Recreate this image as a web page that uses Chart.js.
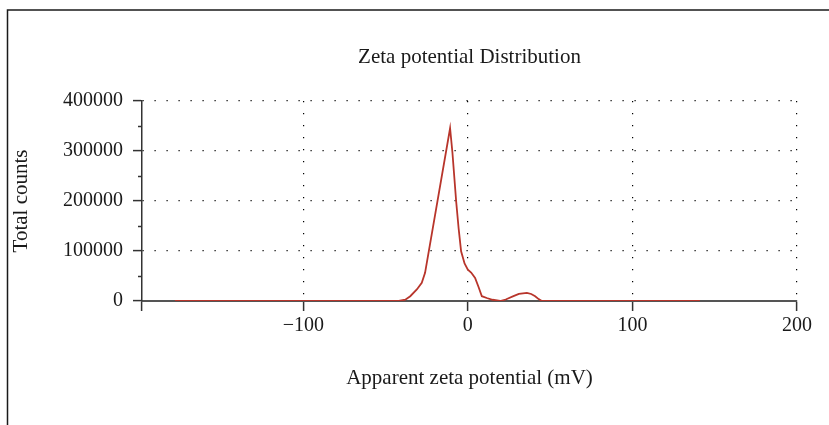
<!DOCTYPE html>
<html>
<head>
<meta charset="utf-8">
<title>Zeta potential Distribution</title>
<script src="https://cdn.jsdelivr.net/npm/chart.js@4.4.1/dist/chart.umd.min.js"></script>
<style>
  html, body { margin: 0; padding: 0; background: #fff; }
  #wrap { width: 829px; height: 425px; position: relative; }
</style>
</head>
<body>
<div id="wrap"><canvas id="zetaChart"></canvas></div>
<script>
// valores (mV, cuentas)
const zetaMv = [-178, -42, -38, -35, -31, -28, -26, -10.8, -9.4, -7.1, -5.6, -4.1, -2, 0, 2, 4.4, 6.5, 8.5, 11.5, 15, 19.6, 23, 27.7, 31, 35.9, 38.5, 40.9, 43, 45, 141];
const totalCounts = [0, 0, 2500, 9600, 23000, 36300, 56300, 345500, 298000, 199000, 145000, 99400, 75000, 62800, 57000, 46300, 28000, 9600, 6000, 2500, 0, 3000, 9600, 14200, 16400, 14000, 9600, 3800, 0, 0];

const xTickValues = [-100, 0, 100, 200];
const yTickValues = [0, 100000, 200000, 300000, 400000];
const yMinorTicks = [50000, 150000, 250000, 350000];
const xMin = -198;
const xMax = 200;

const chartTitle = 'Zeta potential Distribution';
const xTitle = 'Apparent zeta potential (mV)';
const yTitle = 'Total counts';

const SERIF = '"Liberation Serif", "Times New Roman", serif';
const INK = '#1a1a1a';
const DOTS = '#000';

Chart.defaults.font.family = SERIF;
Chart.defaults.color = INK;

// marco, título y marcas menores del eje Y
const decoPlugin = {
    id: 'deco',
    beforeDraw(chart) {
        const ctx = chart.ctx;
        ctx.save();
        ctx.strokeStyle = INK;
        ctx.lineWidth = 1.5;
        ctx.beginPath();
        ctx.moveTo(7.5, chart.height);
        ctx.lineTo(7.5, 10);
        ctx.lineTo(chart.width, 10);
        ctx.stroke();
        ctx.restore();
    },
    afterDraw(chart) {
        const ctx = chart.ctx;
        const area = chart.chartArea;
        const y = chart.scales.y;
        ctx.save();
        ctx.fillStyle = INK;
        ctx.font = '21px ' + SERIF;
        ctx.textAlign = 'center';
        ctx.textBaseline = 'alphabetic';
        ctx.fillText(chartTitle, (area.left + area.right) / 2, 63);

        ctx.strokeStyle = '#333';
        ctx.lineWidth = 1.5;
        yMinorTicks.forEach(v => {
            const py = Math.round(y.getPixelForValue(v)) + 0.5;
            ctx.beginPath();
            ctx.moveTo(y.right - 4, py);
            ctx.lineTo(y.right, py);
            ctx.stroke();
        });
        ctx.restore();
    }
};

const canvas = document.getElementById('zetaChart');

new Chart(canvas.getContext('2d'), {
    type: 'scatter',
    data: {
        datasets: [{
            data: zetaMv.map((x, i) => ({ x, y: totalCounts[i] })),
            showLine: true,
            borderColor: '#b8352b',
            borderWidth: 1.8,
            pointRadius: 0,
            tension: 0
        }]
    },
    options: {
        responsive: true,
        maintainAspectRatio: false,
        animation: false,
        layout: { padding: { top: 101, right: 32, bottom: 0, left: 0 } },
        plugins: {
            legend: { display: false },
            tooltip: { enabled: false },
            title: { display: false }
        },
        scales: {
            x: {
                type: 'linear',
                position: 'bottom',
                min: xMin,
                max: xMax,
                afterBuildTicks: s => { s.ticks = [xMin, ...xTickValues].map(v => ({ value: v })); },
                afterFit: s => { s.height = 124; },
                ticks: {
                    autoSkip: false,
                    maxRotation: 0,
                    padding: 3,
                    font: { size: 20 },
                    color: INK,
                    callback: v => v === xMin ? '' : String(v).replace('-', '\u2212')
                },
                grid: {
                    color: c => (c.tick && xTickValues.includes(c.tick.value)) ? DOTS : 'rgba(0,0,0,0)',
                    lineWidth: 1.2,
                    tickColor: '#333',
                    tickWidth: 1.5,
                    tickLength: 10
                },
                border: { color: '#555', width: 2, dash: [1.2, 10.8] },
                title: {
                    display: true,
                    text: xTitle,
                    font: { size: 21 },
                    color: INK,
                    padding: { top: 0, bottom: 34 }
                }
            },
            y: {
                min: 0,
                max: 400000,
                afterBuildTicks: s => { s.ticks = yTickValues.map(v => ({ value: v })); },
                afterFit: s => { s.width = 142; },
                ticks: {
                    padding: 10,
                    font: { size: 20 },
                    color: INK,
                    callback: v => String(v)
                },
                grid: {
                    color: c => (c.tick && c.tick.value !== 0) ? DOTS : 'rgba(0,0,0,0)',
                    lineWidth: 1.2,
                    tickColor: '#333',
                    tickWidth: 1.5,
                    tickLength: 9
                },
                border: { color: '#333', width: 1.5, dash: [1.2, 10.8] },
                title: {
                    display: true,
                    text: yTitle,
                    font: { size: 21 },
                    color: INK,
                    padding: { top: 9, bottom: 0 }
                }
            }
        }
    },
    plugins: [decoPlugin]
});
</script>
</body>
</html>
